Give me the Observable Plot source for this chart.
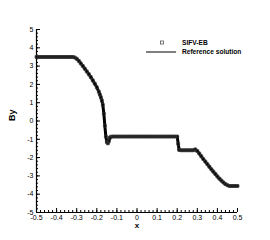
<!DOCTYPE html>
<html><head><meta charset="utf-8">
<script src="https://cdn.jsdelivr.net/npm/d3@7"></script>
<script src="https://cdn.jsdelivr.net/npm/@observablehq/plot@0.6"></script>
<style>body{margin:0;background:#fff}</style>
</head><body><div id="chart"></div>
<script>
const xTicks = [-0.5,-0.4,-0.3,-0.2,-0.1,0,0.1,0.2,0.3,0.4,0.5];
const yTicks = [-5,-4,-3,-2,-1,0,1,2,3,4,5];
const legendLabels = ["SIFV-EB","Reference solution"];

const sifvX = [-0.50,-0.49,-0.48,-0.47,-0.46,-0.45,-0.44,-0.43,-0.42,-0.41,-0.40,-0.39,-0.38,-0.37,-0.36,-0.35,-0.34,-0.33,-0.32,
 -0.31,-0.30,-0.29,-0.28,-0.27,-0.26,-0.25,-0.24,-0.23,-0.22,-0.21,-0.20,-0.19,-0.185,-0.18,-0.175,-0.17,-0.165,-0.16,-0.155,-0.15,-0.145,-0.14,-0.135,-0.13,
 -0.12,-0.11,-0.10,-0.09,-0.08,-0.07,-0.06,-0.05,-0.04,-0.03,-0.02,-0.01,0.00,0.01,0.02,0.03,0.04,0.05,0.06,0.07,0.08,0.09,0.10,0.11,0.12,0.13,0.14,0.15,0.16,0.17,0.18,0.19,0.20,
 0.205,0.21,0.22,0.23,0.24,0.25,0.26,0.27,0.28,0.29,0.30,0.31,0.32,0.33,0.34,0.35,0.36,0.37,0.38,0.39,0.40,0.41,0.42,0.43,0.44,0.45,0.46,0.47,0.48,0.49,0.50];
const sifvY = [3.5,3.5,3.5,3.5,3.5,3.5,3.5,3.5,3.5,3.5,3.5,3.5,3.5,3.5,3.5,3.5,3.5,3.5,3.5,
 3.47,3.40,3.29,3.15,3.01,2.86,2.71,2.56,2.40,2.22,2.04,1.84,1.60,1.45,1.30,1.12,0.88,0.40,-0.25,-0.85,-1.15,-1.22,-1.10,-0.92,-0.86,
 -0.85,-0.85,-0.85,-0.85,-0.85,-0.85,-0.85,-0.85,-0.85,-0.85,-0.85,-0.85,-0.85,-0.85,-0.85,-0.85,-0.85,-0.85,-0.85,-0.85,-0.85,-0.85,-0.85,-0.85,-0.85,-0.85,-0.85,-0.85,-0.85,-0.85,-0.85,-0.85,-0.85,
 -1.25,-1.58,-1.6,-1.6,-1.6,-1.6,-1.6,-1.6,-1.6,-1.55,-1.64,-1.78,-1.93,-2.08,-2.22,-2.36,-2.50,-2.64,-2.77,-2.90,-3.03,-3.15,-3.26,-3.36,-3.45,-3.51,-3.55,-3.55,-3.55,-3.55,-3.55];

const refX = [-0.5,-0.31,-0.29,-0.27,-0.25,-0.23,-0.21,-0.19,-0.175,-0.165,-0.16,-0.153,-0.14,-0.14,0.205,0.205,0.285,0.29,0.31,0.33,0.35,0.37,0.39,0.41,0.43,0.45,0.46,0.5];
const refY = [3.5,3.5,3.29,3.01,2.71,2.40,2.04,1.60,1.12,0.5,-0.3,-1.2,-1.2,-0.85,-0.85,-1.6,-1.6,-1.55,-1.78,-2.08,-2.36,-2.64,-2.90,-3.15,-3.36,-3.51,-3.55,-3.55];

const sifv = sifvX.map((x,i)=>({x, y: sifvY[i]}));
const ref = refX.map((x,i)=>({x, y: refY[i]}));

const W = 270, H = 240, mL = 36, mR = 33, mT = 29, mB = 28;
const pw = W - mL - mR, ph = H - mT - mB;
const xMinor = d3.range(-0.5, 0.5001, 0.02).map(v => +v.toFixed(2));
const yMinor = d3.range(-5, 5.001, 0.2).map(v => +v.toFixed(1));
const fmt = d => String(d);

const chart = Plot.plot({
  width: W, height: H,
  marginLeft: mL, marginRight: mR, marginTop: mT, marginBottom: mB,
  x: {domain: [-0.5, 0.5]},
  y: {domain: [-5, 5]},
  style: {fontFamily: "'Liberation Sans', Arial, sans-serif", fontSize: "7px", color: "#000", background: "#fff"},
  marks: [
    Plot.tickX(xMinor, {x: d => d, insetTop: ph - 2, stroke: "#000"}),
    Plot.tickX(xTicks, {x: d => d, insetTop: ph - 4, stroke: "#000"}),
    Plot.tickY(yMinor, {y: d => d, insetRight: pw - 2, stroke: "#000"}),
    Plot.tickY(yTicks, {y: d => d, insetRight: pw - 4, stroke: "#000"}),
    Plot.ruleX([-0.5], {stroke: "#000", strokeWidth: 1.2}),
    Plot.ruleY([-5], {stroke: "#000", strokeWidth: 1.2}),
    Plot.axisX({ticks: xTicks, tickSize: 0, tickPadding: 2.5, tickFormat: fmt, label: null}),
    Plot.axisY({ticks: yTicks, tickSize: 0, tickPadding: 3, tickFormat: fmt, label: null}),
    Plot.line(sifv, {x: "x", y: "y", stroke: "#000", strokeWidth: 3, strokeLinejoin: "round"}),
    Plot.line(ref, {x: "x", y: "y", stroke: "#000", strokeWidth: 1}),
    Plot.dot(sifv, {x: "x", y: "y", symbol: "square", r: 1.6, stroke: "#333", strokeWidth: 0.8, fill: "none"}),
    Plot.text(["x"], {frameAnchor: "bottom", dy: 15.5, fontWeight: "bold", fontSize: 8}),
    Plot.text(["By"], {frameAnchor: "left", dx: -24, rotate: -90, fontWeight: "bold", fontSize: 9})
  ]
});
document.getElementById("chart").appendChild(chart);

// legend
const svg = d3.select(chart);
const lg = svg.append("g").attr("font-family", "'Liberation Sans', Arial, sans-serif").attr("font-size", 6.6).attr("font-weight", "bold").attr("text-anchor", "start");
lg.append("rect").attr("x", 160.5).attr("y", 41).attr("width", 3).attr("height", 3).attr("fill", "none").attr("stroke", "#555").attr("stroke-width", 0.8);
lg.append("line").attr("x1", 146).attr("x2", 176).attr("y1", 52).attr("y2", 52).attr("stroke", "#000").attr("stroke-width", 1);
lg.append("text").attr("x", 182).attr("y", 43).attr("dy", "0.35em").text(legendLabels[0]);
lg.append("text").attr("x", 182).attr("y", 52).attr("dy", "0.35em").text(legendLabels[1]);
</script>
</body></html>
